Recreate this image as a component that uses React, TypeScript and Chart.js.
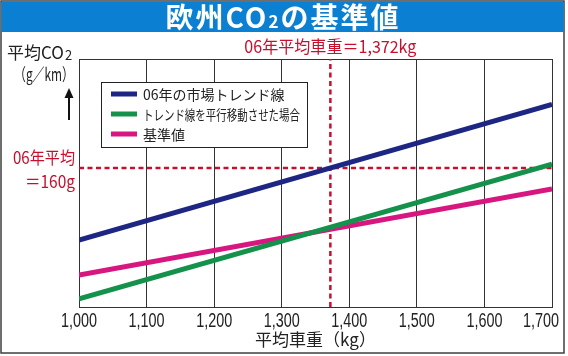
import React, { useEffect, useRef } from "react";
import { Chart, registerables } from "chart.js";

Chart.register(...registerables);

// ---- data ----
const weights = [1000, 1700];
const trend06 = [124.2, 191.5];
const shiftedTrend = [95.0, 161.9];
const standard = [106.9, 149.5];
const seriesLabels = ["06年の市場トレンド線", "トレンド線を平行移動させた場合", "基準値"];
const seriesColors = ["#1d2783", "#14924b", "#d8167f"];
const avgWeight = 1372;
const avgCO2 = 160;
const xMin = 1000;
const xMax = 1700;
const xStep = 100;
const yMin = 91;
const yMax = 214;

const RED = "#c8102e";
const JP = '"Noto Sans CJK JP", "Noto Sans", sans-serif';
const LAT = '"Liberation Sans", Arial, sans-serif';

const toPoints = (ys: number[]) => weights.map((x, i) => ({ x, y: ys[i] }));

const decor = {
  id: "decor",
  beforeDraw(chart: any) {
    const { ctx, width, height } = chart;
    ctx.save();
    ctx.fillStyle = "#ffffff";
    ctx.fillRect(0, 0, width, height);
    // frame
    ctx.strokeStyle = "#3f3f3f";
    ctx.lineWidth = 1.5;
    ctx.strokeRect(1, 1, 563, 352);
    // title bar
    ctx.fillStyle = "#0b80d2";
    ctx.fillRect(1.5, 2, 562, 30);
    // title text with subscript
    const big = `bold 28px ${JP}`;
    const small = `bold 17px ${JP}`;
    const p1 = "欧州CO";
    const p2 = "2";
    const p3 = "の基準値";
    try {
      ctx.letterSpacing = "2px";
    } catch (e) {}
    ctx.font = big;
    const w1 = ctx.measureText(p1).width;
    const w3 = ctx.measureText(p3).width;
    ctx.font = small;
    const w2 = ctx.measureText(p2).width;
    const total = w1 + w2 + w3;
    let x = 283 - total / 2;
    ctx.fillStyle = "#ffffff";
    ctx.textBaseline = "middle";
    ctx.textAlign = "left";
    ctx.font = big;
    ctx.fillText(p1, x, 17.5);
    x += w1;
    ctx.font = small;
    ctx.fillText(p2, x, 22);
    x += w2;
    ctx.font = big;
    ctx.fillText(p3, x, 17.5);
    try {
      ctx.letterSpacing = "0px";
    } catch (e) {}
    ctx.restore();
  },
  beforeDatasetsDraw(chart: any) {
    const { ctx, chartArea } = chart;
    ctx.save();
    ctx.strokeStyle = "#333333";
    ctx.lineWidth = 1;
    ctx.strokeRect(
      Math.round(chartArea.left) + 0.5,
      Math.round(chartArea.top) + 0.5,
      Math.round(chartArea.right - chartArea.left),
      Math.round(chartArea.bottom - chartArea.top)
    );
    ctx.restore();
  },
  afterDatasetsDraw(chart: any) {
    const { ctx, chartArea } = chart;
    const xs = chart.scales.x;
    const ys = chart.scales.y;
    ctx.save();

    // x tick labels (narrow, like the original)
    ctx.fillStyle = "#222222";
    ctx.font = `20px ${LAT}`;
    ctx.textAlign = "center";
    ctx.textBaseline = "middle";
    const labelW = 36;
    xs.ticks.forEach((t: any) => {
      let px = xs.getPixelForValue(t.value);
      if (px + labelW / 2 > 559) px = 559 - labelW / 2;
      ctx.fillText(Number(t.value).toLocaleString("en-US"), px, chartArea.bottom + 14, labelW);
    });

    // legend
    ctx.fillStyle = "#ffffff";
    ctx.fillRect(101, 82, 206, 65);
    ctx.strokeStyle = "#222222";
    ctx.lineWidth = 1;
    ctx.strokeRect(101.5, 82.5, 206, 65);
    const items = chart.data.datasets.filter((d: any) => !d.isRef);
    items.forEach((d: any, i: number) => {
      const y = 94 + i * 20;
      ctx.strokeStyle = d.borderColor;
      ctx.lineWidth = 5;
      ctx.beginPath();
      ctx.moveTo(111, y);
      ctx.lineTo(137, y);
      ctx.stroke();
      ctx.fillStyle = "#222222";
      ctx.font = `14px ${JP}`;
      ctx.textAlign = "left";
      ctx.textBaseline = "middle";
      ctx.fillText(d.label, 143, y + 1, 157);
    });

    // red annotations
    ctx.fillStyle = RED;
    ctx.font = `17px ${JP}`;
    ctx.textBaseline = "middle";
    ctx.textAlign = "center";
    ctx.fillText(`06年平均車重＝${avgWeight.toLocaleString("en-US")}kg`, xs.getPixelForValue(avgWeight), 47, 172);
    const yAvg = ys.getPixelForValue(avgCO2);
    ctx.textAlign = "right";
    ctx.fillText("06年平均", 75, yAvg - 10, 62);
    ctx.fillText(`＝${avgCO2}g`, 75, yAvg + 14, 50);

    // y axis label
    ctx.fillStyle = "#222222";
    ctx.textAlign = "left";
    ctx.font = `17px ${JP}`;
    const a = "平均CO";
    ctx.fillText(a, 7, 53);
    const aw = ctx.measureText(a).width;
    ctx.font = `13px ${JP}`;
    ctx.fillText("2", 7 + aw + 1, 55);
    ctx.font = `17px ${JP}`;
    ctx.textAlign = "center";
    ctx.fillText("（g／km）", 44, 75, 60);
    // arrow
    ctx.strokeStyle = "#111111";
    ctx.lineWidth = 2;
    ctx.beginPath();
    ctx.moveTo(69, 120);
    ctx.lineTo(69, 96);
    ctx.stroke();
    ctx.fillStyle = "#111111";
    ctx.beginPath();
    ctx.moveTo(69, 88);
    ctx.lineTo(64.5, 98);
    ctx.lineTo(73.5, 98);
    ctx.closePath();
    ctx.fill();
    ctx.restore();
  },
};

export default function App() {
  const ref = useRef<HTMLCanvasElement | null>(null);
  useEffect(() => {
    document.body.style.margin = "0";
    const canvas = ref.current;
    if (!canvas) return;
    const refLine = {
      isRef: true,
      borderColor: RED,
      borderWidth: 2.5,
      borderDash: [5, 3.5],
      pointRadius: 0,
      fill: false,
      tension: 0,
    };
    const chart = new Chart(canvas, {
      type: "line",
      data: {
        datasets: [
          ...[trend06, shiftedTrend, standard].map((ys, i) => ({
            label: seriesLabels[i],
            data: toPoints(ys),
            borderColor: seriesColors[i],
            backgroundColor: seriesColors[i],
            borderWidth: 5,
            pointRadius: 0,
            fill: false,
            tension: 0,
            order: 1,
          })),
          {
            ...refLine,
            label: "avgCO2",
            data: [
              { x: xMin, y: avgCO2 },
              { x: xMax, y: avgCO2 },
            ],
            order: 2,
          },
          {
            ...refLine,
            label: "avgWeight",
            data: [
              { x: avgWeight, y: yMin },
              { x: avgWeight, y: yMax },
            ],
            order: 2,
          },
        ] as any,
      },
      options: {
        animation: false,
        responsive: false,
        devicePixelRatio: 1,
        layout: { padding: { left: 79, right: 16, top: 59, bottom: 0 } },
        plugins: { legend: { display: false }, tooltip: { enabled: false } },
        scales: {
          x: {
            type: "linear",
            min: xMin,
            max: xMax,
            ticks: {
              stepSize: xStep,
              display: false,
              autoSkip: false,
            },
            grid: { color: "#333333", lineWidth: 1, drawTicks: false },
            border: { display: false },
            title: {
              display: true,
              text: "平均車重（kg）",
              font: { family: JP, size: 17 },
              color: "#222222",
              padding: { top: 0, bottom: 6 },
            },
            afterFit: (s: any) => {
              s.height = 49;
              s.paddingLeft = 0;
              s.paddingRight = 0;
            },
          },
          y: { type: "linear", display: false, min: yMin, max: yMax },
        },
      },
      plugins: [decor],
    } as any);
    return () => chart.destroy();
  }, []);
  return <canvas ref={ref} width={568} height={356} style={{ display: "block" }} />;
}
